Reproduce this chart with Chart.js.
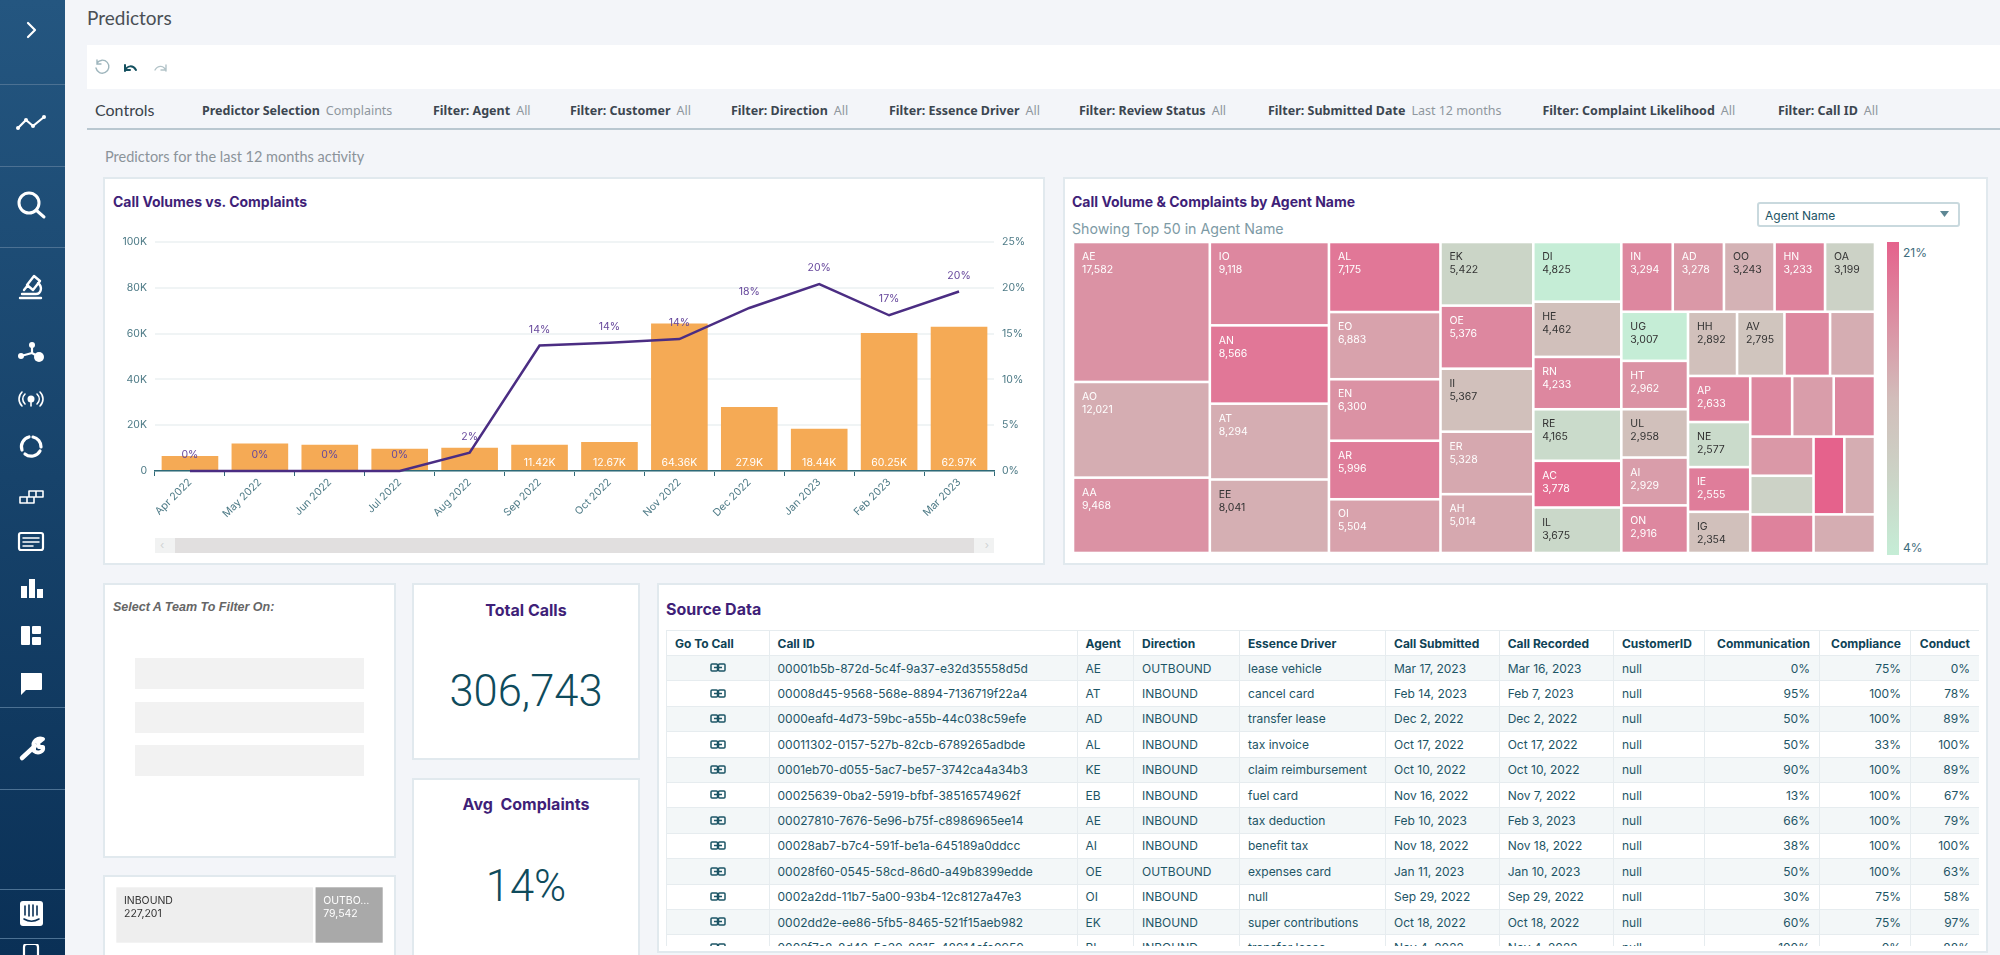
<!DOCTYPE html>
<html>
<head>
<meta charset="utf-8">
<title>Predictors</title>
<script src="https://cdn.jsdelivr.net/npm/chart.js@4/dist/chart.umd.js"></script>
<style>
  * { box-sizing: border-box; }
  html, body { margin: 0; padding: 0; width: 2000px; height: 955px; overflow: hidden; background: #f3f5f9; font-family: Inter, sans-serif; }
  .abs { position: absolute; white-space: nowrap; }
  #sidebar { position: absolute; left: 0; top: 0; width: 65px; height: 955px; background: linear-gradient(#245680, #0a3056); }
  #sidebar .sep { position: absolute; left: 0; width: 65px; height: 1px; background: #4c7193; }
  #sidebar svg { position: absolute; left: 14.5px; width: 32px; height: 32px; fill: none; stroke: #fff; stroke-width: 2.2; stroke-linecap: round; stroke-linejoin: round; }
  #sidebar svg .f { fill: #fff; stroke: none; }
  .card { position: absolute; background: #fff; border: 2px solid #e1e9ee; }
  .heading { font-weight: 700; font-size: 14px; color: #3f1f78; }
  .filter { font-family: "Noto Sans", sans-serif; font-size: 12.5px; font-weight: 700; color: #3c4650; top: 102px; }
  .filter i { font-style: normal; font-weight: 400; color: #8f979e; margin-left: 6px; }
  .kpi-title { left: 0; right: 0; text-align: center; font-weight: 700; font-size: 16px; color: #3f1f78; }
  .kpi-value { left: 0; right: 0; text-align: center; font-family: Roboto, sans-serif; font-weight: 300; color: #0f4b5c; font-size: 43.5px; }
  #tableWrap { position: absolute; left: 666px; top: 630px; width: 1313px; height: 316px; overflow: hidden; }
  table { border-collapse: collapse; table-layout: fixed; width: 1313px; font-size: 12px; color: #1d5566; }
  th, td { height: 25.4px; padding: 0 9px 0 8px; border: 1px solid #e6ecef; text-align: left; white-space: nowrap; overflow: hidden; }
  th { font-weight: 700; color: #0f4356; height: 25px; }
  tr:nth-child(even) td { background: #fff; }
  tbody tr:nth-child(odd) td { background: #f3f7f8; }
  td.num, th.num { text-align: right; }
  td.icon { text-align: center; padding: 0; }
  td.icon svg { display: inline-block; margin-top: -3px; vertical-align: middle; }
  canvas { position: absolute; display: block; }
</style>
</head>
<body>

<div id="sidebar">
  <div class="sep" style="top:84px"></div><div class="sep" style="top:166px"></div><div class="sep" style="top:247px"></div>
  <div class="sep" style="top:707px"></div><div class="sep" style="top:789px"></div><div class="sep" style="top:889px"></div><div class="sep" style="top:938px"></div>
  <svg style="top:14px" viewBox="0 0 32 32"><path d="M13 9l7 7-7 7"/></svg>
  <svg style="top:107px" viewBox="0 0 32 32"><path d="M3 21l8-8 7 6 11-9"/><circle class="f" cx="3" cy="21" r="2"/><circle class="f" cx="11" cy="13" r="2"/><circle class="f" cx="18" cy="19" r="2"/><circle class="f" cx="29" cy="10" r="2"/></svg>
  <svg style="top:189px" viewBox="0 0 32 32"><circle cx="14" cy="14" r="10" style="stroke-width:3"/><path d="M21 21l8 7" style="stroke-width:3"/></svg>
  <svg style="top:271px" viewBox="0 0 32 32"><path d="M5 27h21M7 23h13M19 5l6 5-7 9-6-5zM23 12c5 4 3 11-2 11M9 19l4-5" style="stroke-width:2.4"/></svg>
  <svg style="top:336px" viewBox="0 0 32 32"><circle class="f" cx="6" cy="20" r="3"/><circle class="f" cx="17" cy="9" r="3"/><circle class="f" cx="24" cy="21" r="5"/><path d="M6 20l11-3M17 9v8M17 17l7 4"/></svg>
  <svg style="top:384px" viewBox="0 0 32 32"><circle class="f" cx="16" cy="15" r="3.5"/><path style="stroke-width:1.6" d="M16 18v4M10 10c-3 3-3 7 0 10M22 10c3 3 3 7 0 10M7 8c-4 4-4 10 0 14M25 8c4 4 4 10 0 14"/></svg>
  <svg style="top:430px" viewBox="0 0 32 32"><path d="M14 7a10 10 0 0 0 -7 13M10 24a10 10 0 0 0 15 -3M26 17a10 10 0 0 0 -8 -10" style="stroke-width:3.2"/></svg>
  <svg style="top:481px" viewBox="0 0 32 32"><path style="stroke-width:1.6" d="M5 16h7v6H5zM12 16h7v6h-7zM14 10h7v6h-7zM21 10h7v6h-7z"/></svg>
  <svg style="top:526px" viewBox="0 0 32 32"><rect x="4" y="7" width="24" height="17" rx="2"/><path d="M8 12h16M8 16h16M8 20h10" style="stroke-width:1.5"/></svg>
  <svg style="top:572px" viewBox="0 0 32 32"><rect class="f" x="6" y="14" width="6" height="12"/><rect class="f" x="14" y="7" width="6" height="19"/><rect class="f" x="22" y="17" width="6" height="9"/></svg>
  <svg style="top:619px" viewBox="0 0 32 32"><rect class="f" x="6" y="7" width="9" height="19" rx="1"/><rect class="f" x="17" y="7" width="9" height="8" rx="1"/><rect class="f" x="17" y="18" width="9" height="8" rx="1"/></svg>
  <svg style="top:667px" viewBox="0 0 32 32"><path class="f" d="M6 6h20a1 1 0 0 1 1 1v15a1 1 0 0 1 -1 1H11l-5 5z"/></svg>
  <svg style="top:732px" viewBox="0 0 32 32"><path style="stroke-width:4.5" d="M7 26L20 14"/><path style="stroke-width:4" d="M19 15c-2-6 4-10 9-8l-5 4 1 4 4 0c1 5-5 7-9 4z"/></svg>
  <svg style="top:897px" viewBox="0 0 32 32"><rect class="f" x="5" y="4" width="23" height="25" rx="3"/><path style="stroke:#0a3056;stroke-width:1.6" d="M10 9v9M14 8v11M18 8v11M22 9v9M9 22c5 3 10 3 15 0"/></svg>
  <svg style="top:944px" viewBox="0 0 32 32"><rect x="9" y="0" width="14" height="20" rx="3"/></svg>
</div>

<div class="abs" style="left:87px;top:6px;font-family:Lato,sans-serif;font-size:19px;color:#4a4f55">Predictors</div>
<div class="abs" style="left:87px;top:45px;width:1913px;height:44px;background:#fff"></div>
<svg class="abs" style="left:93px;top:59px" width="80" height="18" viewBox="0 0 80 18" fill="none" stroke-linecap="round">
  <path d="M4 4a6.5 6.5 0 1 1 -1 5M4 1v4h4" stroke="#9fb6bd" stroke-width="1.4"/>
  <path d="M32 12c2-6 8-6 11-1M32 6v5h5" stroke="#14505f" stroke-width="2"/>
  <path d="M73 12c-2-6-8-6-11-1M73 6v5h-5" stroke="#b2c3c8" stroke-width="1.4"/>
</svg>

<div class="abs" style="left:95px;top:100px;font-family:Lato,sans-serif;font-size:16px;color:#3a424a">Controls</div>
<div class="abs" style="left:87px;top:128px;width:1913px;height:2px;background:#b9c7d0"></div>
<div id="filters"></div>
<div class="abs" style="left:105px;top:148px;font-family:Lato,sans-serif;font-size:14.5px;color:#8b9399">Predictors for the last 12 months activity</div>

<!-- volumes card -->
<div class="card" style="left:103px;top:177px;width:942px;height:388px"></div>
<div class="abs heading" style="left:113px;top:193px">Call Volumes vs. Complaints</div>
<canvas id="volumeChart" width="930" height="320" style="left:108px;top:220px"></canvas>
<div class="abs" style="left:155px;top:538px;width:839px;height:15px;background:#f1f2f2;color:#cfd2d2;font-size:11px;line-height:15px;padding:0 5px;display:flex;justify-content:space-between"><span>‹</span><span>›</span></div>
<div class="abs" style="left:175px;top:538px;width:799px;height:15px;background:#e1dfdf"></div>

<!-- agent treemap card -->
<div class="card" style="left:1063px;top:177px;width:925px;height:388px"></div>
<div class="abs heading" style="left:1072px;top:193px">Call Volume &amp; Complaints by Agent Name</div>
<div class="abs" style="left:1072px;top:220px;font-size:14.2px;color:#7d9aa5">Showing Top 50 in Agent Name</div>
<div class="abs" style="left:1757px;top:202px;width:203px;height:25px;border:2px solid #c9d9de;border-radius:3px;background:#fff;font-size:12px;color:#1d5566;padding:4px 6px">Agent Name</div>
<svg class="abs" style="left:1940px;top:211px" width="9" height="6"><path d="M0 0h9L4.5 6z" fill="#5d8794"/></svg>
<canvas id="agentChart" width="802" height="311" style="left:1073px;top:242px"></canvas>
<div class="abs" id="scaleBar" style="left:1887px;top:242px;width:12px;height:313px"></div>
<div class="abs" style="left:1903px;top:245px;font-size:12px;color:#3d6c7d">21%</div>
<div class="abs" style="left:1903px;top:540px;font-size:12px;color:#3d6c7d">4%</div>

<!-- team filter card -->
<div class="card" style="left:103px;top:583px;width:293px;height:275px"></div>
<div class="abs" style="left:113px;top:600px;font-family:'Liberation Sans',sans-serif;font-weight:700;font-style:italic;font-size:12.5px;color:#666">Select A Team To Filter On:</div>
<div class="abs" style="left:135px;top:658px;width:229px;height:31px;background:#f2f2f2"></div>
<div class="abs" style="left:135px;top:702px;width:229px;height:31px;background:#f2f2f2"></div>
<div class="abs" style="left:135px;top:745px;width:229px;height:31px;background:#f2f2f2"></div>

<!-- direction treemap card -->
<div class="card" style="left:103px;top:875px;width:293px;height:90px"></div>
<canvas id="directionChart" width="269" height="58" style="left:115px;top:886px"></canvas>

<!-- KPI cards -->
<div class="card" style="left:412px;top:583px;width:228px;height:177px">
  <div class="abs kpi-title" style="top:15px">Total Calls</div>
  <div class="abs kpi-value" style="top:81px" id="totalCalls"></div>
</div>
<div class="card" style="left:412px;top:778px;width:228px;height:190px">
  <div class="abs kpi-title" style="top:14px">Avg&nbsp; Complaints</div>
  <div class="abs kpi-value" style="top:81px" id="avgComplaints"></div>
</div>

<!-- source table card -->
<div class="card" style="left:657px;top:583px;width:1331px;height:370px"></div>
<div class="abs" style="left:666px;top:599px;font-weight:700;font-size:16px;color:#3f1f78">Source Data</div>
<div id="tableWrap"><table id="sourceTable"><colgroup id="cols"></colgroup><thead><tr id="headRow"></tr></thead><tbody id="tableBody"></tbody></table></div>

<script>
// volumes chart
const months = ["Apr 2022", "May 2022", "Jun 2022", "Jul 2022", "Aug 2022", "Sep 2022", "Oct 2022", "Nov 2022", "Dec 2022", "Jan 2023", "Feb 2023", "Mar 2023"];
const callVolumes = [6500, 12000, 11500, 9700, 10200, 11420, 12670, 64360, 27900, 18440, 60250, 62970];
const complaintRates = [0, 0, 0, 0, 2, 13.7, 14, 14.4, 17.8, 20.4, 17, 19.6];
const volumeLabels = ["", "", "", "", "", "11.42K", "12.67K", "64.36K", "27.9K", "18.44K", "60.25K", "62.97K"];
const rateLabels = ["0%", "0%", "0%", "0%", "2%", "14%", "14%", "14%", "18%", "20%", "17%", "20%"];

// agent treemap, unnamed cells are too small to carry a label in the picture
const agentNames = ["AE", "AO", "AA", "IO", "AN", "AT", "EE", "AL", "EO", "EN", "AR", "OI", "EK", "OE", "II", "ER", "AH", "DI", "HE", "RN", "RE", "AC", "IL", "IN", "AD", "OO", "HN", "OA", "UG", "HT", "UL", "AI", "ON", "HH", "AV", "", "", "AP", "NE", "IE", "IG", "", "", "", "", "", "", "", "", ""];
const agentCalls = [17582, 12021, 9468, 9118, 8566, 8294, 8041, 7175, 6883, 6300, 5996, 5504, 5422, 5376, 5367, 5328, 5014, 4825, 4462, 4233, 4165, 3778, 3675, 3294, 3278, 3243, 3233, 3199, 3007, 2962, 2958, 2929, 2916, 2892, 2795, 2690, 2650, 2633, 2577, 2555, 2354, 2335, 2315, 2300, 2275, 2250, 2240, 2200, 2190, 2180];
const agentRates = [16.5, 14, 16.5, 17.5, 19, 14, 13.8, 19, 15, 16.5, 18.5, 15, 8, 17.5, 12, 14.5, 14.5, 4, 12, 17.5, 7, 20, 7.5, 17.5, 16, 13.5, 18, 8.5, 4, 16.5, 12, 15.5, 17.5, 12, 11, 17.5, 14, 18, 7, 18.5, 12, 17.5, 15.5, 17.5, 16, 8.5, 18, 21, 14, 14];
const agentGroups = [3, 4, 5, 5, 6, 5, 5, 4, 4, 3, 3, 2, 1];
const rateStops = [4, 8, 12.5, 21];
const rateStopColors = ["#c5edd6", "#cbd5c7", "#d2bdba", "#e5628c"];

// direction treemap
const directionNames = ["INBOUND", "OUTBO…"];
const directionCalls = [227201, 79542];
const directionGroups = [1, 1];

// KPI
const totalCalls = "306,743";
const avgComplaints = "14%";

// filter bar
const filterNames = ["Predictor Selection", "Filter: Agent", "Filter: Customer", "Filter: Direction", "Filter: Essence Driver", "Filter: Review Status", "Filter: Submitted Date", "Filter: Complaint Likelihood", "Filter: Call ID"];
const filterValues = ["Complaints", "All", "All", "All", "All", "All", "Last 12 months", "All", "All"];

// source table
const tableHeaders = ["Go To Call", "Call ID", "Agent", "Direction", "Essence Driver", "Call Submitted", "Call Recorded", "CustomerID", "Communication", "Compliance", "Conduct"];
const callIds = ["00001b5b-872d-5c4f-9a37-e32d35558d5d", "00008d45-9568-568e-8894-7136719f22a4", "0000eafd-4d73-59bc-a55b-44c038c59efe", "00011302-0157-527b-82cb-6789265adbde", "0001eb70-d055-5ac7-be57-3742ca4a34b3", "00025639-0ba2-5919-bfbf-38516574962f", "00027810-7676-5e96-b75f-c8986965ee14", "00028ab7-b7c4-591f-be1a-645189a0ddcc", "00028f60-0545-58cd-86d0-a49b8399edde", "0002a2dd-11b7-5a00-93b4-12c8127a47e3", "0002dd2e-ee86-5fb5-8465-521f15aeb982", "0002f7c8-8d40-5c39-8015-48914cfe0950"];
const callAgents = ["AE", "AT", "AD", "AL", "KE", "EB", "AE", "AI", "OE", "OI", "EK", "BL"];
const callDirections = ["OUTBOUND", "INBOUND", "INBOUND", "INBOUND", "INBOUND", "INBOUND", "INBOUND", "INBOUND", "OUTBOUND", "INBOUND", "INBOUND", "INBOUND"];
const essenceDrivers = ["lease vehicle", "cancel card", "transfer lease", "tax invoice", "claim reimbursement", "fuel card", "tax deduction", "benefit tax", "expenses card", "null", "super contributions", "transfer lease"];
const submittedDates = ["Mar 17, 2023", "Feb 14, 2023", "Dec 2, 2022", "Oct 17, 2022", "Oct 10, 2022", "Nov 16, 2022", "Feb 10, 2023", "Nov 18, 2022", "Jan 11, 2023", "Sep 29, 2022", "Oct 18, 2022", "Nov 4, 2022"];
const recordedDates = ["Mar 16, 2023", "Feb 7, 2023", "Dec 2, 2022", "Oct 17, 2022", "Oct 10, 2022", "Nov 7, 2022", "Feb 3, 2023", "Nov 18, 2022", "Jan 10, 2023", "Sep 29, 2022", "Oct 18, 2022", "Nov 4, 2022"];
const communication = ["0%", "95%", "50%", "50%", "90%", "13%", "66%", "38%", "50%", "30%", "60%", "100%"];
const compliance = ["75%", "100%", "100%", "33%", "100%", "100%", "100%", "100%", "100%", "75%", "75%", "0%"];
const conduct = ["0%", "78%", "89%", "100%", "89%", "67%", "79%", "100%", "63%", "58%", "97%", "88%"];

const filterLefts = [202, 433, 570, 731, 889, 1079, 1268, 1542.5, 1778];
const columnWidths = [102.5, 308, 56.5, 106, 146, 113.7, 114.3, 91, 115, 91, 69];

Chart.defaults.animation = false;
Chart.defaults.font.family = "Inter, sans-serif";
Chart.defaults.plugins.legend.display = false;
Chart.defaults.plugins.tooltip.enabled = false;

// page text
filterNames.forEach((name, i) => {
  const el = document.createElement("div");
  el.className = "abs filter";
  el.style.left = filterLefts[i] + "px";
  el.innerHTML = `${name}<i>${filterValues[i]}</i>`;
  document.getElementById("filters").appendChild(el);
});
document.getElementById("totalCalls").textContent = totalCalls;
document.getElementById("avgComplaints").textContent = avgComplaints;

// table
const linkIcon = `<svg width="16" height="9" viewBox="0 0 16 9" fill="none" stroke="#1d5566" stroke-width="1.5"><rect x="1" y="1" width="6.5" height="7" rx="1"/><rect x="8.5" y="1" width="6.5" height="7" rx="1"/><path d="M4 4.5h8"/></svg>`;
columnWidths.forEach((w) => {
  const col = document.createElement("col");
  col.style.width = w + "px";
  document.getElementById("cols").appendChild(col);
});
tableHeaders.forEach((h, i) => {
  const th = document.createElement("th");
  th.textContent = h;
  if (i >= 8) th.className = "num";
  document.getElementById("headRow").appendChild(th);
});
callIds.forEach((id, i) => {
  const tr = document.createElement("tr");
  tr.innerHTML = `<td class="icon">${linkIcon}</td><td>${id}</td><td>${callAgents[i]}</td><td>${callDirections[i]}</td><td>${essenceDrivers[i]}</td><td>${submittedDates[i]}</td><td>${recordedDates[i]}</td><td>null</td><td class="num">${communication[i]}</td><td class="num">${compliance[i]}</td><td class="num">${conduct[i]}</td>`;
  document.getElementById("tableBody").appendChild(tr);
});

// rate -> colour, same ramp as the legend bar
function hexToRgb(hex) {
  return [1, 3, 5].map((p) => parseInt(hex.slice(p, p + 2), 16));
}
function rateColor(rate) {
  let i = 0;
  while (i < rateStops.length - 2 && rate > rateStops[i + 1]) i++;
  const t = Math.min(1, Math.max(0, (rate - rateStops[i]) / (rateStops[i + 1] - rateStops[i])));
  const a = hexToRgb(rateStopColors[i]);
  const b = hexToRgb(rateStopColors[i + 1]);
  return `rgb(${a.map((v, k) => Math.round(v + (b[k] - v) * t)).join(",")})`;
}
const lowRate = rateStops[0];
const highRate = rateStops[rateStops.length - 1];
document.getElementById("scaleBar").style.background = "linear-gradient(to top," +
  rateStops.map((r, i) => `${rateStopColors[i]} ${((r - lowRate) / (highRate - lowRate)) * 100}%`).join(",") + ")";

// treemap: each group of values fills a strip along the shorter side of what is left
function layoutTreemap(values, groups, width, height) {
  let left = 0, top = 0, w = width, h = height;
  let remaining = values.reduce((a, b) => a + b, 0);
  let index = 0;
  const cells = [];
  groups.forEach((count) => {
    const strip = values.slice(index, index + count);
    const stripSum = strip.reduce((a, b) => a + b, 0);
    const asColumn = h <= w;
    const thick = (asColumn ? w : h) * (stripSum / remaining);
    let offset = 0;
    strip.forEach((v) => {
      const length = (asColumn ? h : w) * (v / stripSum);
      cells.push(asColumn
        ? { x0: left, x1: left + thick, y0: top + offset, y1: top + offset + length }
        : { x0: left + offset, x1: left + offset + length, y0: top, y1: top + thick });
      offset += length;
    });
    if (asColumn) { left += thick; w -= thick; } else { top += thick; h -= thick; }
    remaining -= stripSum;
    index += count;
  });
  return cells;
}

class TreemapCell extends Chart.Element {
  draw(ctx) {
    const g = 1.3;
    ctx.save();
    ctx.fillStyle = this.fill;
    ctx.fillRect(this.left + g, this.top + g, this.right - this.left - 2 * g, this.bottom - this.top - 2 * g);
    if (this.name) {
      ctx.fillStyle = this.ink;
      ctx.font = "10.5px Inter, sans-serif";
      ctx.textBaseline = "middle";
      ctx.fillText(this.name, this.left + 9, this.top + 15);
      ctx.fillText(this.caption, this.left + 9, this.top + 28);
    }
    ctx.restore();
  }
}
TreemapCell.id = "treemapCell";
TreemapCell.defaults = {};

class TreemapController extends Chart.DatasetController {
  update() {
    const meta = this._cachedMeta;
    const ds = this.getDataset();
    const { x, y } = this.chart.scales;
    const cells = layoutTreemap(ds.data, ds.groups, x.width, y.height);
    meta.data.forEach((el, i) => {
      const c = cells[i];
      Object.assign(el, {
        left: x.getPixelForValue(c.x0 / x.width),
        right: x.getPixelForValue(c.x1 / x.width),
        top: y.getPixelForValue(c.y0 / y.height),
        bottom: y.getPixelForValue(c.y1 / y.height),
        name: this.chart.data.labels[i],
        caption: ds.data[i].toLocaleString("en-US"),
        fill: ds.cellColors[i],
        ink: ds.inkColors[i],
      });
    });
  }
}
TreemapController.id = "treemap";
TreemapController.defaults = { datasetElementType: false, dataElementType: "treemapCell", parsing: false };
TreemapController.overrides = {
  scales: {
    x: { type: "linear", min: 0, max: 1, display: false },
    y: { type: "linear", min: 0, max: 1, reverse: true, display: false },
  },
};
Chart.register(TreemapCell, TreemapController);

new Chart(document.getElementById("agentChart"), {
  type: "treemap",
  data: {
    labels: agentNames,
    datasets: [{
      label: "Calls",
      data: agentCalls,
      groups: agentGroups,
      cellColors: agentRates.map(rateColor),
      inkColors: agentRates.map((r) => (r >= 14 ? "#fff" : "#333")),
    }],
  },
  options: { responsive: false, layout: { padding: 0 } },
});

new Chart(document.getElementById("directionChart"), {
  type: "treemap",
  data: {
    labels: directionNames,
    datasets: [{
      label: "Calls",
      data: directionCalls,
      groups: directionGroups,
      cellColors: ["#eeeeee", "#a9a9a9"],
      inkColors: ["#333", "#fff"],
    }],
  },
  options: { responsive: false, layout: { padding: 0 } },
});

// labels on the bars and above the line
const valueLabels = {
  id: "valueLabels",
  afterDatasetsDraw(chart) {
    const ctx = chart.ctx;
    const bars = chart.getDatasetMeta(1).data;
    const line = chart.getDatasetMeta(0).data;
    ctx.save();
    ctx.textAlign = "center";
    ctx.textBaseline = "middle";
    ctx.font = "10.5px Inter, sans-serif";
    ctx.fillStyle = "#ffffff";
    bars.forEach((bar, i) => ctx.fillText(volumeLabels[i], bar.x, chart.scales.y.bottom - 8));
    ctx.fillStyle = "#67489c";
    line.forEach((pt, i) => ctx.fillText(rateLabels[i], pt.x, pt.y - 16));
    ctx.restore();
  },
};

new Chart(document.getElementById("volumeChart"), {
  data: {
    labels: months,
    datasets: [
      { type: "line", label: "Complaints", data: complaintRates, yAxisID: "y1", borderColor: "#4b2d83", borderWidth: 2.5, pointRadius: 0, tension: 0, clip: false, order: 0 },
      { type: "bar", label: "Call Volume", data: callVolumes, yAxisID: "y", backgroundColor: "#f5aa55", barPercentage: 0.81, categoryPercentage: 1, order: 1 },
    ],
  },
  options: {
    responsive: false,
    layout: { padding: { top: 22 } },
    scales: {
      x: {
        offset: true,
        grid: { offset: true, drawOnChartArea: false, color: "#2e6a78", tickLength: 5 },
        border: { color: "#2e6a78", width: 1.5 },
        ticks: { color: "#4d7a86", font: { size: 10.5 }, minRotation: 45, maxRotation: 45, padding: 0, autoSkip: false },
        afterFit(scale) { scale.height = 69; },
      },
      y: {
        position: "left",
        min: 0,
        max: 100000,
        ticks: { stepSize: 20000, color: "#4d7a86", font: { size: 10.5 }, padding: 8, callback: (v) => (v === 0 ? "0" : v / 1000 + "K") },
        grid: { color: "#f0f4f5", lineWidth: 2, tickLength: 0 },
        border: { display: false },
        afterFit(scale) { scale.width = 47; },
      },
      y1: {
        position: "right",
        min: 0,
        max: 25,
        ticks: { stepSize: 5, color: "#4d7a86", font: { size: 10.5 }, padding: 8, callback: (v) => v + "%" },
        grid: { drawOnChartArea: false, tickLength: 0 },
        border: { display: false },
        afterFit(scale) { scale.width = 44; },
      },
    },
  },
  plugins: [valueLabels],
});
</script>
</body>
</html>
